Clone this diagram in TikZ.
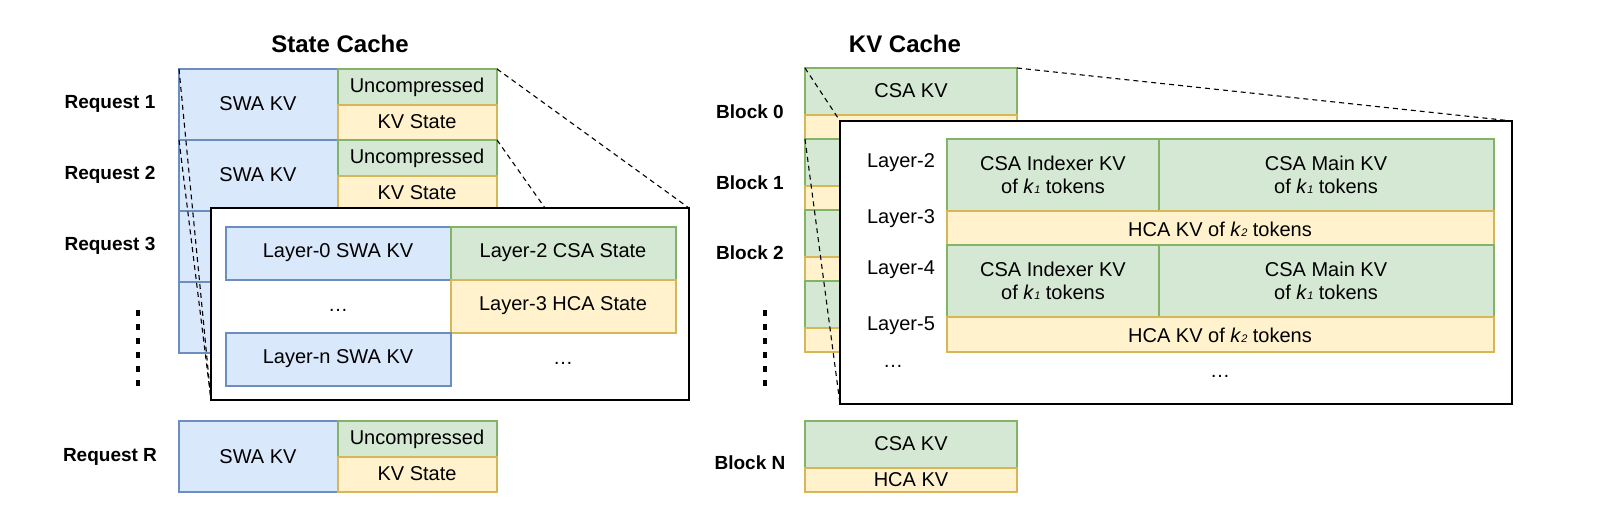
\documentclass[tikz,border=0pt]{standalone}
\usepackage{fontspec}
\setmainfont{Liberation Sans}
\begin{document}
\begin{tikzpicture}[x=1pt,y=-1pt,
  blu/.style={draw=bstroke,fill=bfill,line width=1.2pt},
  grn/.style={draw=gstroke,fill=gfill,line width=1.2pt},
  yel/.style={draw=ystroke,fill=yfill,line width=1.2pt},
  t/.style={font=\fontsize{20}{23}\selectfont},
  lab/.style={font=\bfseries\fontsize{19}{22}\selectfont},
  ttl/.style={font=\bfseries\fontsize{24}{27}\selectfont},
  dsh/.style={line width=1.1pt,dash pattern=on 5pt off 4pt},
  zb/.style={draw=black,fill=white,line width=1.5pt}]
\definecolor{bfill}{HTML}{DAE8FC}\definecolor{gfill}{HTML}{D5E8D4}\definecolor{yfill}{HTML}{FFF2CC}
\definecolor{gstroke}{HTML}{82B366}\definecolor{ystroke}{HTML}{D6B656}
\definecolor{bstroke}{HTML}{6C8EBF}
\newcommand{\kk}[1]{\textit{k}{\fontsize{11}{11}\selectfont\textit{#1}}}
\useasboundingbox (0,0) rectangle (1600,523);
% titles
\node[ttl] (t1) at (340,44) {State Cache};
\node[ttl] (t2) at (905,44) {KV Cache};
% left requests
\foreach \i/\y in {1/69,2/140,3/211,4/282}{
  \draw[blu] (179,\y) rectangle (338,\y+71);
  \draw[grn] (338,\y) rectangle (497,\y+36);
  \draw[yel] (338,\y+36) rectangle (497,\y+71);
}
\node[t] (u1) at (417,87) {Uncompressed};
\node[t] (s1) at (417,122) {KV State};
\node[t] (w1) at (258,104) {SWA KV};
\node[t] (u2) at (417,158) {Uncompressed};
\node[t] (s2) at (417,193) {KV State};
\node[t] (w2) at (258,175) {SWA KV};
\draw[blu] (179,421) rectangle (338,492);
\draw[grn] (338,421) rectangle (497,457);
\draw[yel] (338,457) rectangle (497,492);
\node[t] (wr) at (258,457) {SWA KV};
\node[t] (ur) at (417,439) {Uncompressed};
\node[t] (sr) at (417,474) {KV State};
\node[lab] (r1) at (110,104) {Request 1};
\node[lab] (r2) at (110,175) {Request 2};
\node[lab] (r3) at (110,246) {Request 3};
\node[lab] (rr) at (110,457) {Request R};
\foreach \y in {316,330,344,358,372,386} \fill (136,\y) rectangle ++(4,-6);
% left zoom box
\coordinate (a1) at (179,69); \coordinate (a2) at (497,69);
\coordinate (b1) at (179,140); \coordinate (b2) at (497,140);
\draw[zb] (211,208) rectangle (689,400);
\coordinate (zbl) at (211,400); \coordinate (ztr) at (689,208); \coordinate (zt) at (545,208);
\draw[dsh] (a1) -- (zbl); \draw[dsh] (b1) -- (zbl);
\draw[dsh] (a2) -- (ztr); \draw[dsh] (b2) -- (zt);
\draw[blu] (226,227) rectangle (451,280);
\draw[grn] (451,227) rectangle (676,280);
\draw[yel] (451,280) rectangle (676,333);
\draw[blu] (226,333) rectangle (451,386);
\node[t] (l0) at (338,253) {Layer-0 SWA KV};
\node[t] (l2) at (563,253) {Layer-2 CSA State};
\node[t] (l3) at (563,306) {Layer-3 HCA State};
\node[t] (ln) at (338,359) {Layer-n SWA KV};
\node[t] (d1) at (338,310) {\dots};
\node[t] (d2) at (563,363) {\dots};
% right blocks
\foreach \y in {68,139,210,281}{
  \draw[grn] (805,\y) rectangle (1017,\y+47);
  \draw[yel] (805,\y+47) rectangle (1017,\y+71);
}
\node[t] (c0) at (911,91) {CSA KV};
\node[t] (h0) at (911,128) {HCA KV};
\draw[grn] (805,421) rectangle (1017,468);
\draw[yel] (805,468) rectangle (1017,492);
\node[t] (cn) at (911,444) {CSA KV};
\node[t] (hn) at (911,480) {HCA KV};
\node[lab] (k0) at (750,112) {Block 0};
\node[lab] (k1) at (750,183) {Block 1};
\node[lab] (k2) at (750,253) {Block 2};
\node[lab] (kn) at (750,463) {Block N};
\foreach \y in {316,330,344,358,372,386} \fill (763,\y) rectangle ++(4,-6);
\coordinate (p1) at (805,68); \coordinate (p2) at (1017,68); \coordinate (p3) at (805,139);
\draw[zb] (840,121) rectangle (1512,404);
\coordinate (qtl) at (840,121); \coordinate (qtr) at (1512,121); \coordinate (qbl) at (840,404);
\draw[dsh] (p1) -- (qtl); \draw[dsh] (p3) -- (qbl); \draw[dsh] (p2) -- (qtr);
\foreach \y in {139,245}{
  \draw[grn] (947,\y) rectangle (1159,\y+72);
  \draw[grn] (1159,\y) rectangle (1494,\y+72);
  \draw[yel] (947,\y+72) rectangle (1494,\y+107);
  \node[t,align=center] at (1053,\y+36) {CSA Indexer KV\\of \kk{1} tokens};
  \node[t,align=center] at (1326,\y+36) {CSA Main KV\\of \kk{1} tokens};
  \node[t] at (1220,\y+90) {HCA KV of \kk{2} tokens};
}
\node[t] (y2) at (901,163) {Layer-2};
\node[t] (y3) at (901,219) {Layer-3};
\node[t] (y4) at (901,270) {Layer-4};
\node[t] (y5) at (901,326) {Layer-5};
\node[t] (y6) at (893,366) {\dots};
\node[t] (y7) at (1220,376) {\dots};
\end{tikzpicture}
\end{document}
